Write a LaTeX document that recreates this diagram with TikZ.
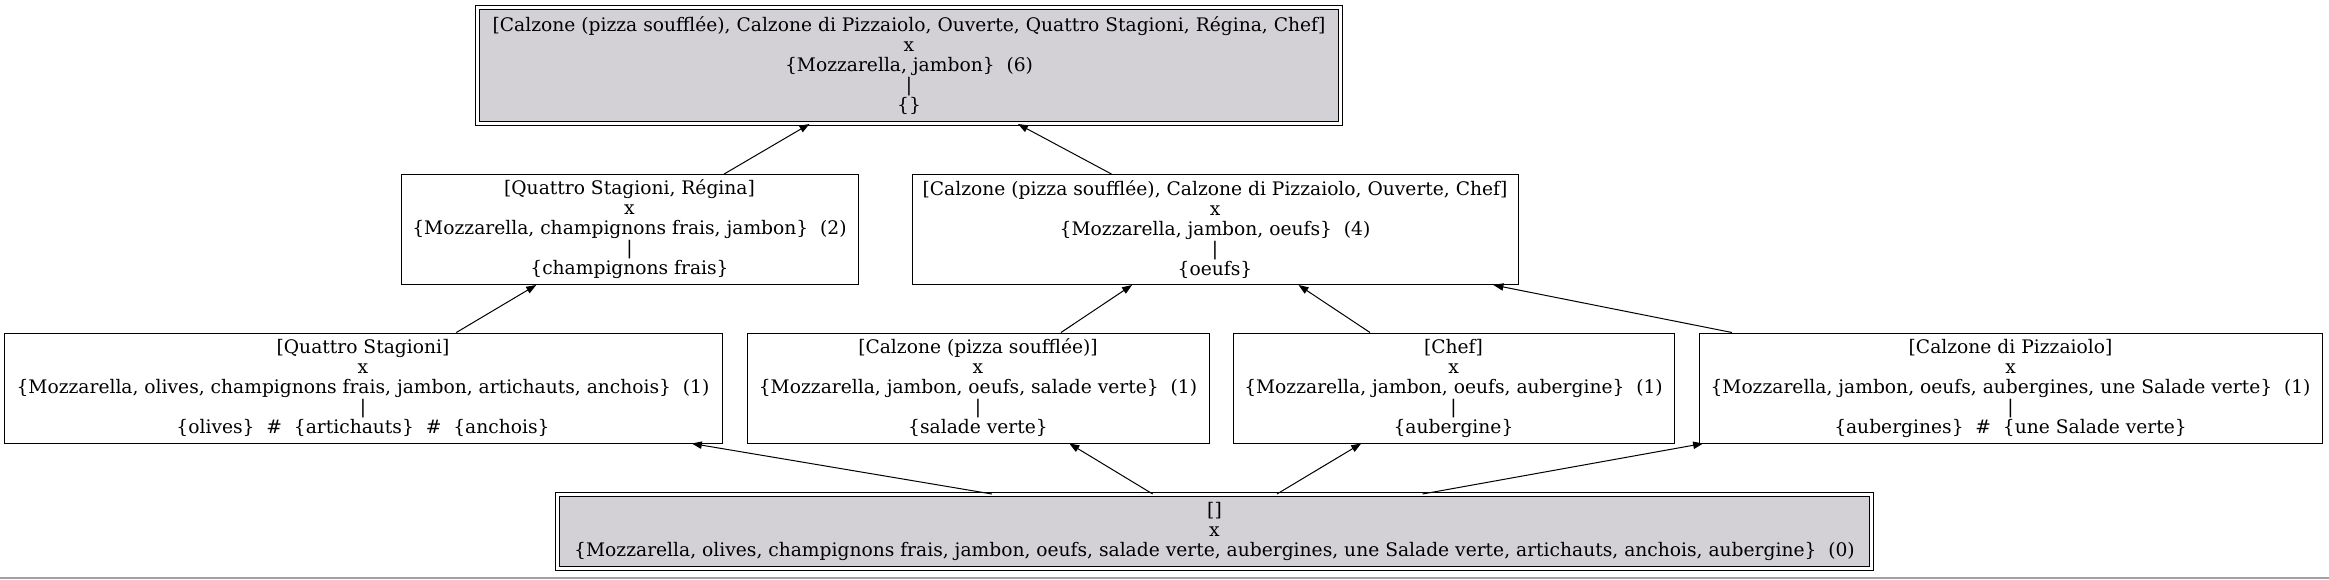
\documentclass[tikz,border=0pt]{standalone}
\usepackage{fontspec}
\setmainfont{DejaVu Serif}
\usetikzlibrary{arrows.meta}
\definecolor{boundgray}{RGB}{212,209,214}

\begin{document}
\begin{tikzpicture}[x=0.75pt, y=-0.75pt,
  concept/.style={rectangle, draw=black, line width=0.75pt, inner sep=0pt, align=center,
    font=\fontsize{14}{15}\selectfont, minimum height=82.5pt},
  bound/.style={concept, fill=boundgray, double, double distance=2.6pt},
  >={Triangle[length=7.5pt, width=5.5pt]}]
  \useasboundingbox (0,0) rectangle (2329,579);
  \fill [black!37] (0,577) rectangle (2329,579);

  \node (T) [bound, minimum width=647.25pt, minimum height=87pt] at (909,65.5)
    {[Calzone (pizza soufflée), Calzone di Pizzaiolo, Ouverte, Quattro Stagioni, Régina, Chef]\\x\\\{Mozzarella, jambon\}~~(6)\\|\\\{\}};

  \node (QR) [concept, minimum width=342.75pt] at (629.5,229.5)
    {[Quattro Stagioni, Régina]\\x\\\{Mozzarella, champignons frais, jambon\}~~(2)\\|\\\{champignons frais\}};
  \node (CC) [concept, minimum width=454.5pt] at (1215,229.5)
    {[Calzone (pizza soufflée), Calzone di Pizzaiolo, Ouverte, Chef]\\x\\\{Mozzarella, jambon, oeufs\}~~(4)\\|\\\{oeufs\}};

  \node (QS) [concept, minimum width=538.5pt] at (363,388)
    {[Quattro Stagioni]\\x\\\{Mozzarella, olives, champignons frais, jambon, artichauts, anchois\}~~(1)\\|\\\{olives\}~~\#~~\{artichauts\}~~\#~~\{anchois\}};
  \node (CPS) [concept, minimum width=346.5pt] at (978,388)
    {[Calzone (pizza soufflée)]\\x\\\{Mozzarella, jambon, oeufs, salade verte\}~~(1)\\|\\\{salade verte\}};
  \node (CH) [concept, minimum width=330.75pt] at (1453.5,388)
    {[Chef]\\x\\\{Mozzarella, jambon, oeufs, aubergine\}~~(1)\\|\\\{aubergine\}};
  \node (CDP) [concept, minimum width=467.25pt] at (2010.5,388)
    {[Calzone di Pizzaiolo]\\x\\\{Mozzarella, jambon, oeufs, aubergines, une Salade verte\}~~(1)\\|\\\{aubergines\}~~\#~~\{une Salade verte\}};

  \node (B) [bound, minimum width=985.5pt, minimum height=55.5pt] at (1214.5,531.5)
    {[]\\x\\\{Mozzarella, olives, champignons frais, jambon, oeufs, salade verte, aubergines, une Salade verte, artichauts, anchois, aubergine\}~~(0)};

  \path [->] [line width=0.75pt]
  (QR) edge (T)
  (CC) edge (T)
  (QS) edge (QR)
  (CPS) edge (CC)
  (CH) edge (CC)
  (CDP) edge (CC)
  (B) edge (QS)
  (B) edge (CPS)
  (B) edge (CH)
  (B) edge (CDP);
\end{tikzpicture}
\end{document}
